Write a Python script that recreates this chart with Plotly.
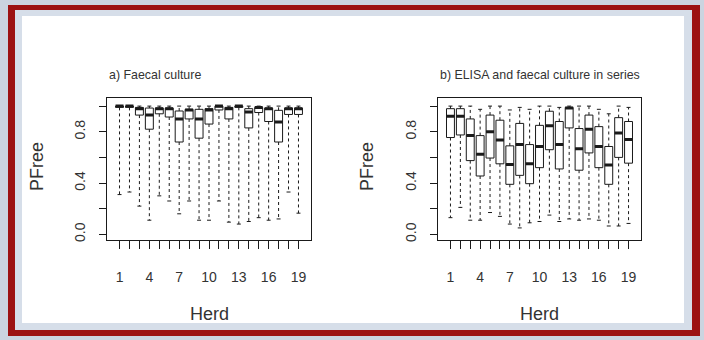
import plotly.graph_objects as go

W, H = 704, 340

herds = list(range(1, 20))
tick_labels = [str(h) if (h - 1) % 3 == 0 else "" for h in herds]
y_ticks = [0.0, 0.2, 0.4, 0.6, 0.8, 1.0]
y_tick_labels = ["0.0", "", "0.4", "", "0.8", ""]

title_a = "a) Faecal culture"
title_b = "b) ELISA and faecal culture in series"

# a) Faecal culture
q1_a = [0.99, 0.99, 0.93, 0.82, 0.94, 0.915, 0.72, 0.90, 0.75, 0.86, 0.97, 0.90, 0.99, 0.83, 0.95, 0.88, 0.72, 0.935, 0.935]
med_a = [1.0, 1.0, 0.98, 0.93, 0.98, 0.98, 0.90, 0.97, 0.90, 0.97, 1.0, 0.98, 1.0, 0.955, 0.99, 0.98, 0.877, 0.98, 0.98]
q3_a = [1.0, 1.0, 0.99, 0.985, 0.985, 0.985, 0.962, 0.975, 0.975, 0.98, 1.0, 0.99, 1.0, 0.98, 0.99, 0.985, 0.967, 0.985, 0.985]
lo_a = [0.31, 0.33, 0.22, 0.11, 0.30, 0.26, 0.16, 0.26, 0.11, 0.11, 0.26, 0.095, 0.08, 0.10, 0.13, 0.11, 0.12, 0.33, 0.165]
hi_a = [1.0] * 19

# b) ELISA and faecal culture in series
q1_b = [0.755, 0.775, 0.575, 0.455, 0.595, 0.55, 0.39, 0.46, 0.395, 0.52, 0.66, 0.51, 0.83, 0.50, 0.635, 0.52, 0.39, 0.60, 0.555]
med_b = [0.92, 0.92, 0.77, 0.625, 0.80, 0.735, 0.545, 0.70, 0.55, 0.685, 0.846, 0.70, 0.985, 0.667, 0.82, 0.685, 0.54, 0.79, 0.74]
q3_b = [0.98, 0.98, 0.90, 0.77, 0.93, 0.89, 0.69, 0.865, 0.70, 0.85, 0.96, 0.88, 0.99, 0.825, 0.93, 0.84, 0.685, 0.91, 0.88]
lo_b = [0.13, 0.21, 0.11, 0.11, 0.17, 0.14, 0.08, 0.05, 0.09, 0.10, 0.15, 0.10, 0.12, 0.11, 0.12, 0.11, 0.065, 0.065, 0.085]
hi_b = [1.0, 1.0, 1.0, 0.975, 1.0, 1.0, 0.97, 0.99, 0.975, 1.0, 1.0, 0.99, 1.0, 1.0, 1.0, 0.975, 0.94, 1.0, 0.99]

FONT = "Liberation Sans, Arial, sans-serif"
INK = "#1a1a1a"
TXT = "#333333"
BOXW = 0.8
CAPW = 0.4

fig = go.Figure()


def add_panel(q1, med, q3, lo, hi, xa, ya):
    wx, wy, cx, cy, mx, my = [], [], [], [], [], []
    for h, a, m, b, l, u in zip(herds, q1, med, q3, lo, hi):
        wx += [h, h, None, h, h, None]
        wy += [b, u, None, a, l, None]
        cx += [h - CAPW / 2, h + CAPW / 2, None, h - CAPW / 2, h + CAPW / 2, None]
        cy += [u, u, None, l, l, None]
        mx += [h - BOXW / 2, h + BOXW / 2, None]
        my += [m, m, None]
    fig.add_trace(go.Scatter(x=wx, y=wy, mode="lines", xaxis=xa, yaxis=ya,
                             line=dict(color=INK, width=1, dash="3px,3px"),
                             showlegend=False, hoverinfo="skip"))
    fig.add_trace(go.Scatter(x=cx, y=cy, mode="lines", xaxis=xa, yaxis=ya,
                             line=dict(color=INK, width=1),
                             showlegend=False, hoverinfo="skip"))
    fig.add_trace(go.Box(x=herds, q1=q1, median=med, q3=q3, lowerfence=q1, upperfence=q3,
                         xaxis=xa, yaxis=ya, width=BOXW, whiskerwidth=0,
                         fillcolor="white", line=dict(color=INK, width=1),
                         boxpoints=False, showlegend=False))
    fig.add_trace(go.Scatter(x=mx, y=my, mode="lines", xaxis=xa, yaxis=ya,
                             line=dict(color=INK, width=3),
                             showlegend=False, hoverinfo="skip"))


add_panel(q1_a, med_a, q3_a, lo_a, hi_a, "x", "y")
add_panel(q1_b, med_b, q3_b, lo_b, hi_b, "x2", "y2")

ydom = [1 - 241 / H, 1 - 99 / H]


def xax(dom, anchor):
    return dict(domain=dom, anchor=anchor, range=[-0.26, 20.26], tickvals=herds, ticktext=tick_labels,
                ticks="outside", ticklen=8, tickcolor=INK, tickwidth=1,
                showline=True, linecolor=INK, linewidth=1, mirror=True,
                showgrid=False, zeroline=False, ticklabelstandoff=17,
                tickfont=dict(family=FONT, size=14, color=TXT), fixedrange=True)


def yax(anchor):
    return dict(domain=ydom, range=[-0.041, 1.06], tickvals=y_ticks, ticktext=y_tick_labels,
                anchor=anchor, ticks="outside", ticklen=7, tickcolor=INK, tickwidth=1,
                tickangle=-90, showline=True, linecolor=INK, linewidth=1, mirror=True,
                showgrid=False, zeroline=False, ticklabelstandoff=8,
                tickfont=dict(family=FONT, size=14, color=TXT), fixedrange=True)


def px(x):
    return x / W


def py(y):
    return 1 - y / H


shapes = [
    dict(type="rect", xref="paper", yref="paper", x0=px(8), x1=px(700), y0=py(338), y1=py(5),
         fillcolor="#9c1212", line=dict(width=0), layer="below"),
    dict(type="rect", xref="paper", yref="paper", x0=px(15), x1=px(692), y0=py(332), y1=py(10),
         fillcolor="#d6dee9", line=dict(width=0), layer="below"),
    dict(type="rect", xref="paper", yref="paper", x0=px(22), x1=px(684), y0=py(325), y1=py(16),
         fillcolor="white", line=dict(width=0), layer="below"),
]

ann = []
for t, x0 in [(title_a, 107), (title_b, 438)]:
    ann.append(dict(text=t, x=px(x0), y=py(75), xref="paper", yref="paper", xanchor="left",
                    yanchor="middle", showarrow=False, font=dict(family=FONT, size=12.4, color=TXT)))
for xc in [209, 539.5]:
    ann.append(dict(text="Herd", x=px(xc), y=py(316), xref="paper", yref="paper", xanchor="center",
                    yanchor="middle", showarrow=False, font=dict(family=FONT, size=18, color=TXT)))
for xc in [37, 367]:
    ann.append(dict(text="PFree", x=px(xc), y=py(168), xref="paper", yref="paper", xanchor="center",
                    yanchor="middle", textangle=-90, showarrow=False,
                    font=dict(family=FONT, size=18, color=TXT)))

fig.update_layout(
    width=W, height=H, margin=dict(l=0, r=0, t=0, b=0),
    paper_bgcolor="#cbd4e0", plot_bgcolor="white",
    xaxis=xax([107 / W, 311 / W], "y"), yaxis=yax("x"),
    xaxis2=xax([438 / W, 641 / W], "y2"), yaxis2=yax("x2"),
    shapes=shapes, annotations=ann, showlegend=False,
)

fig.write_html("out.html", config={"displayModeBar": False},
               post_script="document.body.style.margin='0';document.body.style.overflow='hidden';")
